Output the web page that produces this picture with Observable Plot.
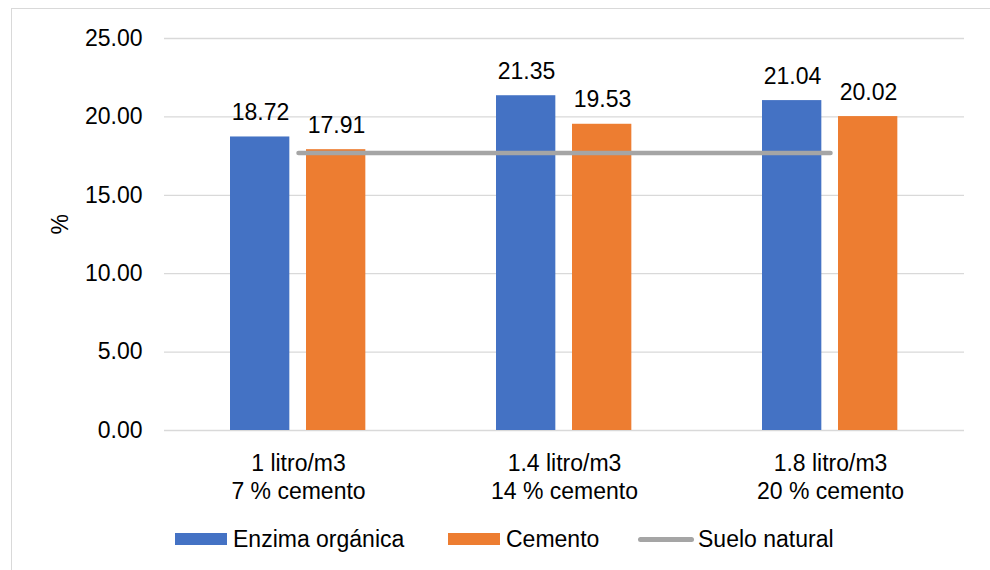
<!DOCTYPE html>
<html>
<head>
<meta charset="utf-8">
<script src="https://cdn.jsdelivr.net/npm/d3@7"></script>
<script src="https://cdn.jsdelivr.net/npm/@observablehq/plot@0.6"></script>
<style>
  html, body { margin: 0; padding: 0; background: #fff; }
  #wrap { position: relative; width: 990px; height: 570px; overflow: hidden; font-family: "Liberation Sans", Arial, sans-serif; }
  #frame { position: absolute; left: 11px; top: 8px; width: 1000px; height: 600px; border: 1px solid #D9D9D9; box-sizing: border-box; }
  #chart { position: absolute; left: 0; top: 0; }
  #legend { position: absolute; left: 0; top: 525px; width: 990px; height: 28px; font-size: 23px; color: #000; }
  .item { position: absolute; top: 0; display: flex; align-items: center; height: 28px; }
  .sw { width: 52px; height: 12px; margin-right: 6px; }
  .ln { width: 56px; height: 5px; border-radius: 3px; margin-right: 4px; }
</style>
</head>
<body>
<div id="wrap">
  <div id="frame"></div>
  <div id="chart"></div>
  <div id="legend"></div>
</div>
<script>
const categories = ["1 litro/m3\n7 % cemento", "1.4 litro/m3\n14 % cemento", "1.8 litro/m3\n20 % cemento"];
const enzima = [18.72, 21.35, 21.04];
const cemento = [17.91, 19.53, 20.02];
const sueloNatural = [17.7, 17.7, 17.7];
const yTicks = [0, 5, 10, 15, 20, 25];
const seriesNames = ["Enzima orgánica", "Cemento", "Suelo natural"];
const colors = ["#4472C4", "#ED7D31", "#A5A5A5"];

const data = categories.map((c, i) => ({cat: c, enzima: enzima[i], cemento: cemento[i], suelo: sueloNatural[i]}));

const W = 990, H = 570;
const mL = 164, mR = 26, mT = 38, mB = 140;
const bw = (W - mL - mR) / categories.length;
const font = "Liberation Sans, Arial, sans-serif";

const chart = Plot.plot({
  width: W,
  height: H,
  marginLeft: mL,
  marginRight: mR,
  marginTop: mT,
  marginBottom: mB,
  style: {fontFamily: font, fontSize: "23px", color: "#000", background: "transparent"},
  x: {type: "band", domain: categories, padding: 0},
  y: {domain: [0, 25]},
  marks: [
    Plot.ruleY(yTicks, {stroke: "#D9D9D9", strokeWidth: 1.3, strokeOpacity: 1}),
    Plot.barY(data, {x: "cat", y: "enzima", fill: colors[0], insetLeft: 65, insetRight: bw - 125}),
    Plot.barY(data, {x: "cat", y: "cemento", fill: colors[1], insetLeft: 141, insetRight: bw - 201}),
    Plot.lineY(data, {x: "cat", y: "suelo", stroke: colors[2], strokeWidth: 4.5, strokeLinecap: "round"}),
    Plot.text(data, {x: "cat", y: "enzima", text: d => d.enzima.toFixed(2), dx: -38, dy: -17, lineAnchor: "bottom", fontSize: 23, fill: "#000"}),
    Plot.text(data, {x: "cat", y: "cemento", text: d => d.cemento.toFixed(2), dx: 38, dy: -17, lineAnchor: "bottom", fontSize: 23, fill: "#000"}),
    Plot.axisY({ticks: yTicks, tickFormat: d => d.toFixed(2), tickSize: 0, tickPadding: 22, fontSize: 23, label: null}),
    Plot.axisX({tickSize: 0, tickPadding: 21, fontSize: 23, lineHeight: 1.2, label: null}),
    Plot.text(["%"], {frameAnchor: "left", dx: 60 - mL, rotate: -90, fontSize: 23, fill: "#000"})
  ]
});
document.getElementById("chart").appendChild(chart);

const legend = document.getElementById("legend");
const positions = [175, 448, 638];
seriesNames.forEach((name, i) => {
  const it = document.createElement("div");
  it.className = "item";
  it.style.left = positions[i] + "px";
  const sw = document.createElement("div");
  sw.className = i === 2 ? "ln" : "sw";
  sw.style.background = colors[i];
  const t = document.createElement("span");
  t.textContent = name;
  it.appendChild(sw);
  it.appendChild(t);
  legend.appendChild(it);
});
</script>
</body>
</html>
